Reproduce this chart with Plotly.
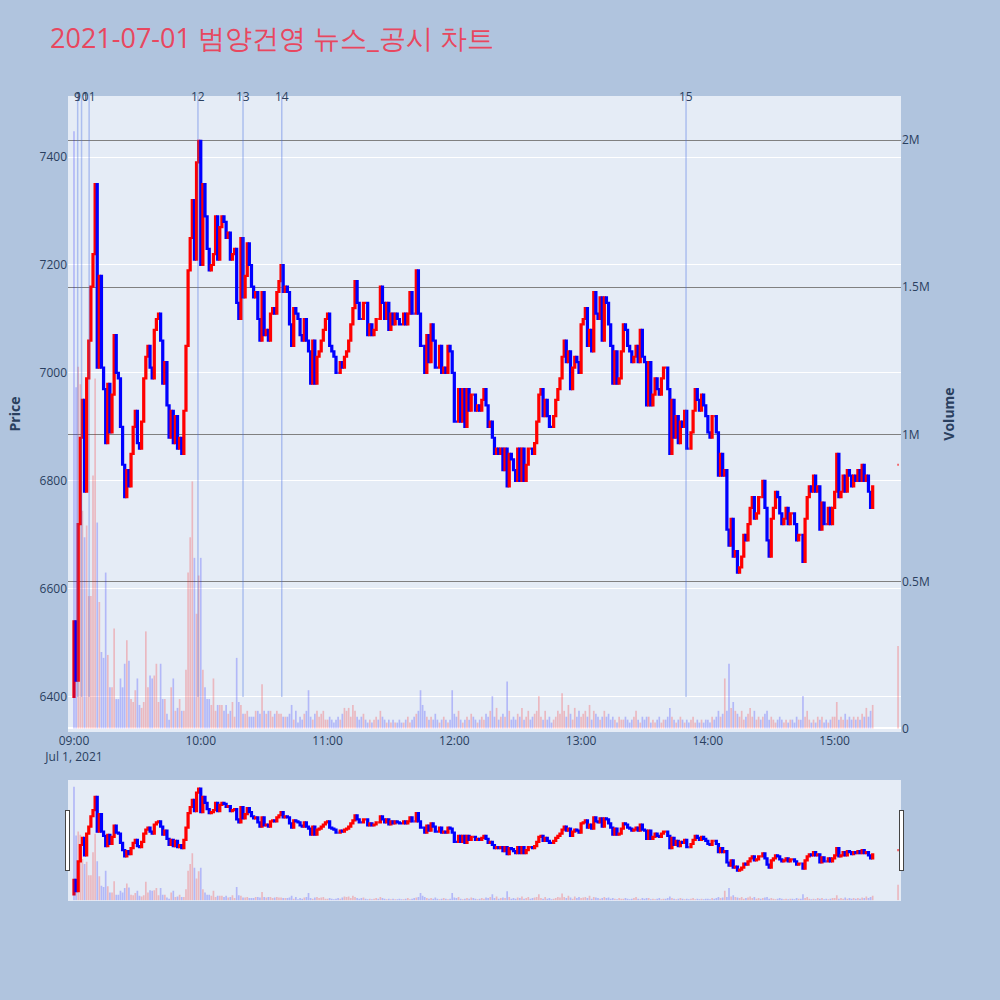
import pandas as pd
import plotly.graph_objects as go
from plotly.subplots import make_subplots

title_text = "2021-07-01 범양건영 뉴스_공시 차트"
session_start = "2021-07-01 09:00"
first_open = 6400

# 1-minute closes, 09:00 .. 15:18
closes = [
    6540, 6430, 6720, 6880, 6950, 6780, 6990, 7060, 7160, 7220,
    7350, 7010, 7180, 7010, 6970, 6870, 6980, 6890, 6960, 7070,
    7000, 6990, 6900, 6830, 6770, 6820, 6790, 6850, 6900, 6930,
    6870, 6860, 6910, 6990, 7030, 7050, 7010, 6990, 7080, 7100,
    7110, 7060, 6980, 7020, 6940, 6880, 6930, 6870, 6920, 6860,
    6880, 6850, 6930, 7050, 7190, 7250, 7320, 7210, 7390, 7430,
    7200, 7350, 7290, 7230, 7190, 7200, 7220, 7290, 7210, 7270,
    7290, 7280, 7250, 7260, 7210, 7220, 7230, 7130, 7100, 7250,
    7140, 7180, 7240, 7200, 7160, 7140, 7150, 7100, 7060, 7150,
    7070, 7080, 7060, 7110, 7120, 7110, 7150, 7170, 7200, 7150,
    7160, 7150, 7090, 7050, 7120, 7110, 7100, 7070, 7060, 7100,
    7060, 7040, 6980, 7060, 6980, 7030, 7040, 7060, 7080, 7100,
    7110, 7050, 7040, 7030, 7000, 7000, 7020, 7010, 7030, 7040,
    7060, 7090, 7120, 7170, 7130, 7100, 7100, 7130, 7130, 7070,
    7090, 7070, 7080, 7100, 7100, 7160, 7130, 7100, 7130, 7080,
    7110, 7090, 7110, 7100, 7090, 7090, 7110, 7090, 7110, 7150,
    7110, 7110, 7190, 7110, 7050, 7050, 7000, 7070, 7020, 7090,
    7060, 7010, 7010, 7050, 7000, 7010, 7000, 7050, 7040, 7000,
    6910, 6910, 6970, 6910, 6970, 6900, 6970, 6930, 6960, 6960,
    6930, 6940, 6930, 6950, 6970, 6940, 6900, 6910, 6880, 6850,
    6860, 6850, 6860, 6820, 6860, 6790, 6850, 6840, 6820, 6800,
    6860, 6800, 6860, 6800, 6830, 6860, 6860, 6850, 6870, 6910,
    6960, 6970, 6920, 6950, 6920, 6900, 6900, 6920, 6950, 6970,
    6990, 7030, 7060, 7020, 7040, 6970, 7010, 7030, 7020, 7000,
    7090, 7100, 7120, 7050, 7080, 7040, 7150, 7110, 7100, 7140,
    7060, 7140, 7130, 7090, 7050, 6980, 7040, 6980, 6990, 7040,
    7090, 7080, 7050, 7040, 7020, 7030, 7050, 7020, 7080, 7030,
    7020, 6940, 7020, 6940, 6960, 6990, 6970, 6960, 6990, 7010,
    7010, 6970, 6850, 6950, 6880, 6920, 6870, 6910, 6900, 6930,
    6860, 6860, 6890, 6930, 6970, 6950, 6930, 6960, 6940, 6920,
    6890, 6880, 6920, 6920, 6890, 6810, 6850, 6810, 6820, 6710,
    6680, 6730, 6660, 6670, 6630, 6640, 6660, 6700, 6690, 6720,
    6750, 6770, 6730, 6740, 6770, 6770, 6800, 6750, 6690, 6660,
    6730, 6750, 6780, 6770, 6740, 6720, 6730, 6750, 6720, 6740,
    6740, 6720, 6690, 6700, 6700, 6650, 6730, 6770, 6790, 6780,
    6810, 6780, 6790, 6710, 6760, 6720, 6720, 6750, 6720, 6750,
    6780, 6850, 6770, 6780, 6810, 6780, 6820, 6810, 6790, 6810,
    6800, 6820, 6800, 6830, 6800, 6810, 6780, 6750, 6790,
]

# 1-minute volumes in thousands of shares
volumes_k = [
    2030, 1160, 1230, 1170, 740, 650, 690, 450, 450, 860,
    1190, 700, 430, 260, 240, 530, 250, 140, 140, 340,
    100, 100, 170, 140, 220, 300, 230, 100, 90, 130,
    170, 80, 70, 90, 330, 140, 180, 170, 180, 220,
    90, 220, 100, 100, 50, 30, 140, 170, 60, 70,
    100, 60, 60, 200, 530, 650, 840, 580, 390, 520,
    580, 200, 140, 100, 100, 80, 170, 60, 80, 80,
    80, 60, 80, 50, 60, 90, 40, 240, 90, 80,
    50, 50, 60, 40, 40, 40, 60, 60, 50, 150,
    60, 50, 60, 60, 40, 50, 60, 50, 50, 40,
    40, 40, 50, 80, 30, 60, 20, 40, 30, 50,
    60, 130, 40, 30, 50, 60, 40, 50, 60, 30,
    30, 40, 30, 20, 30, 40, 30, 50, 70, 60,
    70, 40, 80, 60, 40, 30, 40, 50, 30, 20,
    30, 20, 30, 40, 30, 60, 40, 30, 20, 30,
    20, 30, 20, 20, 30, 20, 20, 30, 40, 20,
    30, 40, 50, 60, 130, 80, 60, 40, 30, 40,
    30, 50, 30, 20, 30, 40, 30, 20, 30, 130,
    50, 40, 60, 30, 20, 30, 40, 30, 50, 40,
    30, 20, 30, 40, 30, 50, 40, 60, 110, 40,
    70, 30, 40, 50, 40, 160, 60, 30, 40, 30,
    50, 40, 70, 30, 40, 60, 30, 40, 50, 60,
    110, 40, 30, 60, 30, 40, 20, 30, 40, 60,
    50, 120, 60, 40, 80, 50, 30, 70, 40, 60,
    40, 50, 60, 40, 80, 30, 60, 50, 40, 30,
    40, 60, 40, 50, 30, 40, 30, 20, 40, 30,
    30, 40, 30, 20, 30, 40, 60, 30, 20, 40,
    30, 40, 40, 20, 30, 20, 30, 40, 20, 30,
    30, 40, 70, 40, 30, 20, 30, 40, 30, 20,
    30, 20, 30, 40, 20, 30, 20, 30, 20, 30,
    30, 20, 40, 30, 40, 60, 40, 50, 170, 60,
    220, 70, 90, 60, 50, 40, 60, 30, 40, 50,
    70, 40, 60, 30, 40, 30, 40, 50, 60, 30,
    40, 30, 20, 30, 40, 30, 20, 30, 20, 30,
    30, 20, 40, 30, 30, 110, 40, 60, 30, 20,
    30, 20, 40, 30, 40, 20, 30, 20, 30, 40,
    40, 90, 30, 40, 30, 50, 30, 40, 30, 40,
    30, 40, 30, 50, 40, 70, 40, 60, 80,
]

# closing auction
auction_time = "2021-07-01 15:30"
auction_price = 6830
auction_volume_k = 280

# news / disclosure markers
news_labels = ["9", "10", "11", "12", "13", "14", "15"]
news_times = [
    "2021-07-01 09:01:45", "2021-07-01 09:03:35", "2021-07-01 09:07:10",
    "2021-07-01 09:58:40", "2021-07-01 10:20:00", "2021-07-01 10:38:20",
    "2021-07-01 13:49:40",
]

price_range = [6335, 7513]
volume_range = [-12000, 2150000]
x_range = ["2021-07-01 08:57:10", "2021-07-01 15:31:24"]

# ---- build series ----
times = list(pd.date_range(session_start, periods=len(closes), freq="min")) + [pd.Timestamp(auction_time)]
close_all = closes + [auction_price]
open_all = [first_open] + closes[:-1] + [auction_price]
high_all = [max(o, c) for o, c in zip(open_all, close_all)]
low_all = [min(o, c) for o, c in zip(open_all, close_all)]
vol_all = [v * 1000 for v in volumes_k + [auction_volume_k]]

vol_colors = []
for i, c in enumerate(close_all):
    if i > 0 and c > close_all[i - 1]:
        vol_colors.append("rgba(255,0,0,0.22)")
    else:
        vol_colors.append("rgba(0,0,255,0.22)")

fig = make_subplots(specs=[[{"secondary_y": True}]])

fig.add_trace(
    go.Candlestick(
        x=times, open=open_all, high=high_all, low=low_all, close=close_all,
        increasing=dict(line=dict(color="red", width=2.2), fillcolor="red"),
        decreasing=dict(line=dict(color="blue", width=2.2), fillcolor="blue"),
        name="Price", showlegend=False,
    ),
    secondary_y=False,
)
fig.add_trace(
    go.Bar(x=times, y=vol_all, marker=dict(color=vol_colors, line=dict(width=0)),
           name="Volume", showlegend=False),
    secondary_y=True,
)

low_min = min(low_all)
for lab, t in zip(news_labels, news_times):
    fig.add_shape(type="line", xref="x", yref="y", x0=t, x1=t,
                  y0=low_min, y1=price_range[1],
                  line=dict(color="rgba(65,105,225,0.35)", width=1.5))
    fig.add_annotation(x=t, y=1, xref="x", yref="paper", text=lab,
                       showarrow=False, yanchor="middle",
                       font=dict(size=12, color="#2a3f5f"))

fig.update_layout(
    width=1000, height=1000,
    paper_bgcolor="#B0C4DE",
    plot_bgcolor="#E5ECF6",
    title=dict(text=title_text, x=0.05, font=dict(size=27, color="#E8475F")),
    margin=dict(l=68, r=99, t=96, b=100),
    showlegend=False,
    bargap=0.2,
)
fig.update_xaxes(domain=[0, 1], range=x_range, showgrid=False,
                 rangeslider=dict(visible=True, bgcolor="#E5ECF6"))
fig.update_yaxes(title_text="<b>Price</b>", range=price_range, secondary_y=False,
                 gridcolor="white")
fig.update_yaxes(title_text="<b>Volume</b>", range=volume_range, secondary_y=True,
                 showgrid=True, gridcolor="gray")

fig.write_html("out.html", config={"displayModeBar": False},
               post_script="document.body.style.margin='0px';")
